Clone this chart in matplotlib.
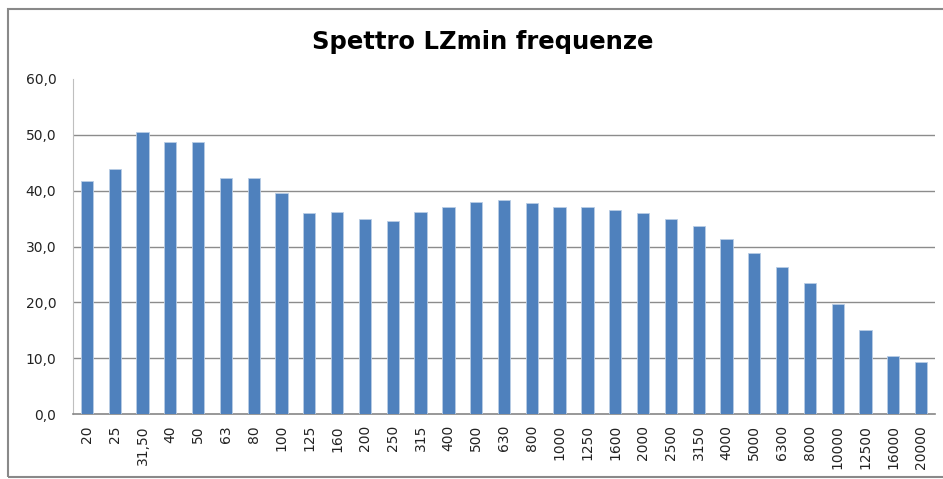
import matplotlib
matplotlib.use("Agg")
import matplotlib.pyplot as plt
from matplotlib.patches import Rectangle
from matplotlib.ticker import FuncFormatter

freqs = ['20', '25', '31,50', '40', '50', '63', '80', '100', '125', '160',
         '200', '250', '315', '400', '500', '630', '800', '1000', '1250', '1600',
         '2000', '2500', '3150', '4000', '5000', '6300', '8000', '10000', '12500',
         '16000', '20000']
lzmin = [41.7, 43.9, 50.5, 48.8, 48.8, 42.3, 42.3, 39.6, 36.0, 36.2,
         34.9, 34.6, 36.2, 37.1, 38.0, 38.3, 37.8, 37.1, 37.1, 36.5,
         36.0, 34.9, 33.7, 31.3, 28.8, 26.3, 23.5, 19.7, 15.0, 10.4, 9.3]
yticks = [0, 10, 20, 30, 40, 50, 60]

W, H = 943, 479
fig = plt.figure(figsize=(W / 100, H / 100), dpi=100)
ax = fig.add_axes([73 / W, (H - 414) / H, (935 - 73) / W, (414 - 79) / H])

x = range(len(freqs))
ax.bar(x, lzmin, width=0.44, color='#4F81BD', edgecolor='#B9CDE5', linewidth=0.6, zorder=3)

ax.set_xlim(-0.5, len(freqs) - 0.5)
ax.set_ylim(0, 60)
ax.set_yticks(yticks)
ax.yaxis.set_major_formatter(FuncFormatter(lambda v, p: f"{v:.1f}".replace('.', ',')))
ax.set_xticks(list(x))
ax.set_xticklabels(freqs, rotation=90, fontsize=10, color='#222222')
ax.tick_params(axis='x', length=0, pad=8)
ax.tick_params(axis='y', length=0, pad=12, labelsize=10, labelcolor='#222222')

for v in yticks[1:-1]:
    ax.axhline(v, color='#8C8C8C', lw=1.0, zorder=1)

for s in ['top', 'right']:
    ax.spines[s].set_visible(False)
ax.spines['left'].set_color('#BFBFBF')
ax.spines['bottom'].set_color('#868686')
ax.spines['bottom'].set_linewidth(1.2)

fig.text(483 / W, 1 - 42 / H, 'Spettro LZmin frequenze', ha='center', va='center',
         fontsize=17.5, fontweight='bold')

# chart area border
fig.patches.append(Rectangle((8 / W, (H - 477) / H), 1.0, (477 - 9) / H,
                             transform=fig.transFigure, fill=False,
                             edgecolor='#898989', lw=1.5))

fig.savefig('out.png', dpi=100)
